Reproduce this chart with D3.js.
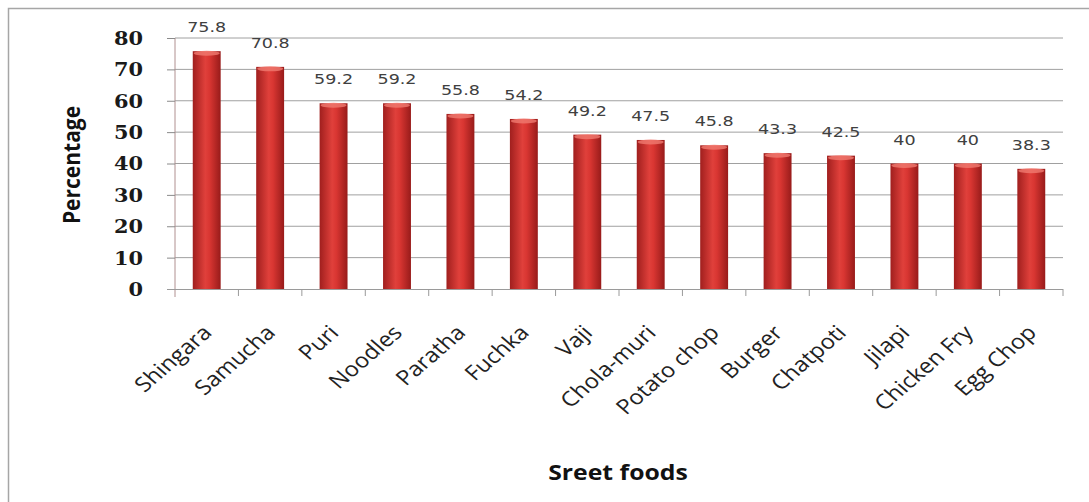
<!DOCTYPE html>
<html><head><meta charset="utf-8">
<script src="https://cdn.jsdelivr.net/npm/d3@7"></script>
<style>body{margin:0;background:#fff}</style>
</head><body><svg id="c" width="1089" height="502"></svg>
<script>
const categories = ["Shingara","Samucha","Puri","Noodles","Paratha","Fuchka","Vaji","Chola-muri","Potato chop","Burger","Chatpoti","Jilapi","Chicken Fry","Egg Chop"];
const values = [75.8,70.8,59.2,59.2,55.8,54.2,49.2,47.5,45.8,43.3,42.5,40,40,38.3];
const valueLabels = ["75.8","70.8","59.2","59.2","55.8","54.2","49.2","47.5","45.8","43.3","42.5","40","40","38.3"];
const yTicks = [0,10,20,30,40,50,60,70,80];

const svg = d3.select("#c");
const L = 175, R = 1063, T = 38, B = 289;
const SX = 1.16; // horizontal stretch of the reference text
const x = d3.scaleBand().domain(categories).range([L, R]).paddingInner(0.56).paddingOuter(0.28);
const y = d3.scaleLinear().domain([0, 80]).range([B, T]);

// border
svg.append("rect").attr("x", 8.5).attr("y", 8.5).attr("width", 1200).attr("height", 600)
  .attr("fill", "none").attr("stroke", "#a6a6a6").attr("stroke-width", 1.5);

// gradient
const defs = svg.append("defs");
const g = defs.append("linearGradient").attr("id", "barg").attr("x1", "0").attr("x2", "1").attr("y1", "0").attr("y2", "0");
g.append("stop").attr("offset", "0").attr("stop-color", "#a01f1e");
g.append("stop").attr("offset", "0.45").attr("stop-color", "#e0403b");
g.append("stop").attr("offset", "0.6").attr("stop-color", "#d93632");
g.append("stop").attr("offset", "1").attr("stop-color", "#981b1a");

// gridlines
svg.append("g").selectAll("line").data(yTicks.filter(d => d > 0)).join("line")
  .attr("x1", L).attr("x2", R).attr("y1", d => y(d)).attr("y2", d => y(d))
  .attr("stroke", "#a0a0a0").attr("stroke-width", 1);

// y axis
const yAxis = svg.append("g").attr("transform", `translate(${L},0)`)
  .call(d3.axisLeft(y).tickValues(yTicks).tickSize(8));
yAxis.select(".domain").attr("stroke", "#b09090").attr("d", `M0,${T}V${B + 8}`);
yAxis.selectAll(".tick line").attr("stroke", "#8a8a8a");
yAxis.selectAll(".tick text")
  .attr("x", 0).attr("dy", "0.36em")
  .attr("transform", `translate(-32,0) scale(${SX},1)`)
  .attr("text-anchor", "end")
  .attr("font-family", "DejaVu Serif, serif").attr("font-weight", "bold")
  .attr("font-size", 18).attr("fill", "#1a1a1a");

// x axis
const xAxisG = svg.append("g").attr("transform", `translate(0,${B})`);
xAxisG.append("line").attr("x1", L - 8).attr("x2", R).attr("y1", 0.5).attr("y2", 0.5).attr("stroke", "#9a9a9a");
const bounds = d3.range(categories.length + 1).map(i => L + i * (R - L) / categories.length);
xAxisG.selectAll("line.t").data(bounds.slice(1)).join("line").attr("class", "t")
  .attr("x1", d => d).attr("x2", d => d).attr("y1", 0).attr("y2", 7).attr("stroke", "#9a9a9a");

// bars
const bars = svg.append("g");
bars.selectAll("rect").data(values).join("rect")
  .attr("x", (d, i) => x(categories[i])).attr("width", x.bandwidth())
  .attr("y", d => y(d)).attr("height", d => B - y(d))
  .attr("fill", "url(#barg)");
bars.selectAll("ellipse").data(values).join("ellipse")
  .attr("cx", (d, i) => x(categories[i]) + x.bandwidth() / 2).attr("cy", d => y(d) + 2)
  .attr("rx", x.bandwidth() / 2 - 1).attr("ry", 2.5).attr("fill", "#f07a70").attr("opacity", 0.8);

// value labels
svg.append("g").selectAll("text").data(values).join("text")
  .attr("transform", (d, i) => `translate(${x(categories[i]) + x.bandwidth() / 2},${y(d) - 19}) scale(1.3,1)`)
  .attr("text-anchor", "middle").attr("font-family", "DejaVu Sans, sans-serif")
  .attr("font-size", 13.5).attr("fill", "#404040")
  .text((d, i) => valueLabels[i]);

// category labels
svg.append("g").selectAll("text").data(categories).join("text")
  .attr("transform", d => `translate(${x(d) + x.bandwidth() / 2 + 6.5},${B + 45}) scale(${SX},1) rotate(-45)`)
  .attr("text-anchor", "end").attr("font-family", "Open Sans, sans-serif")
  .attr("font-size", 20.5).attr("fill", "#222")
  .text(d => d);

// axis titles
svg.append("text").attr("transform", `translate(80,165) scale(1.1,1) rotate(-90)`)
  .attr("text-anchor", "middle").attr("font-family", "Open Sans, sans-serif").attr("font-weight", "bold")
  .attr("font-size", 21).attr("fill", "#111").text("Percentage");
svg.append("text").attr("transform", `translate(618,480) scale(1.18,1)`)
  .attr("text-anchor", "middle").attr("font-family", "Open Sans, sans-serif").attr("font-weight", "bold")
  .attr("font-size", 21).attr("fill", "#111").text("Sreet foods");
</script></body></html>
